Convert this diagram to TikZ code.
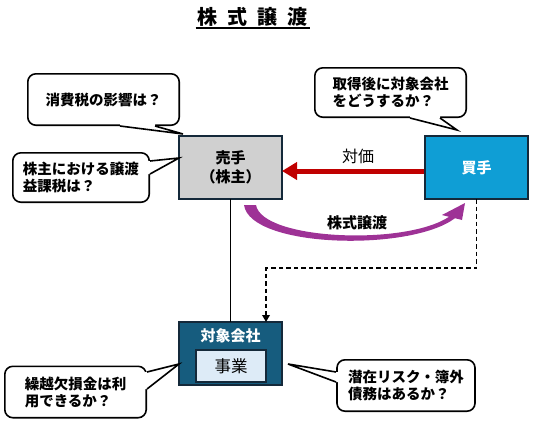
\documentclass[tikz,border=0pt]{standalone}
\usepackage{fontspec}
\setmainfont{Noto Sans CJK JP}
\usetikzlibrary{arrows.meta,calc}
\definecolor{sellerfill}{HTML}{D0D0D0}
\definecolor{boxline}{HTML}{14293A}
\definecolor{buyerfill}{HTML}{0F9ED5}
\definecolor{targetfill}{HTML}{165C7E}
\definecolor{innerfill}{HTML}{DDEBF7}
\definecolor{redarr}{HTML}{C00000}
\definecolor{purparr}{HTML}{9E3296}
\newcommand{\calltail}[4]{%
  \fill[white] ($(#1)+#4$) -- (#1) -- (#3) -- (#2) -- ($(#2)+#4$) -- cycle;
  \draw[tailline] (#1) -- (#3) -- (#2);}
\begin{document}
\begin{tikzpicture}[x=1pt,y=-1pt,
  party/.style={draw=boxline, line width=2.2pt, minimum width=103pt, minimum height=63pt,
    inner sep=0pt, outer sep=0pt, align=center, font=\bfseries\fontsize{15}{19}\selectfont},
  bubble/.style={draw=black, line width=1.6pt, rounded corners=8pt, fill=white,
    inner sep=0pt, outer sep=0pt, align=left, font=\bfseries\fontsize{14.5}{17}\selectfont},
  tailline/.style={draw=black, line width=1.6pt, line join=miter},
  txt/.style={inner sep=0pt, outer sep=0pt},
  link/.style={line width=1.8pt, draw=black}
]
\useasboundingbox (0,0) rectangle (533,440);

% title
\node[txt, font=\bfseries\fontsize{20}{22}\selectfont] (title) at (252.5,16.5)
  {株\hspace{10pt}式\hspace{10pt}譲\hspace{10pt}渡};
\draw[line width=1.3pt] ($(title.west)+(-2,11.5)$) -- ($(title.east)+(2,11.5)$);

% parties
\node[party, fill=sellerfill] (seller) at (230.5,167.5) {売手\\（株主）};
\node[party, fill=buyerfill, text=white] (buyer) at (476.5,167.5) {買手};
\node[party, fill=targetfill] (target) at (230.5,353.5) {};
\node[txt, text=white, font=\bfseries\fontsize{15}{18}\selectfont] (tname) at (230.5,336) {対象会社};
\node[draw=boxline, line width=2pt, fill=innerfill, minimum width=70pt, minimum height=32pt,
  inner sep=0pt, font=\fontsize{16.5}{18}\selectfont] (biz) at (231,366) {事業};

% connectors
\draw[link] (seller.south) -- (target.north);
\draw[link, dash pattern=on 4.5pt off 3pt, -{Triangle[length=7pt,width=7.5pt]}]
  (buyer.south) -- ++(0,69) -| ($(target.north)+(35.5,0)$);
\draw[line width=5pt, draw=redarr, -{Triangle[length=15pt,width=17pt]}]
  ($(buyer.west)+(-1,3.5)$) -- ($(seller.east)+(0,3.5)$);

% purple curved arrow
\fill[purparr] (244,205) .. controls (250,248) and (410,252) .. (455,218.2)
  -- (462,220) -- (465,203) -- (442,215) -- (449,216.8)
  .. controls (405,246) and (262,240) .. (256,205) -- cycle;

% labels
\node[txt, font=\fontsize{16}{18}\selectfont] (price) at (358,156.5) {対価};
\node[txt, font=\bfseries\fontsize{15}{18}\selectfont] (sharelbl) at (357,223) {株式譲渡};

% callouts
\node[bubble, minimum width=151.4pt, minimum height=51.4pt] (q1) at (103.5,99.5) {消費税の影響は？};
\coordinate (q1a) at (120,126); \coordinate (q1b) at (155,126);
\coordinate (q1t) at ($(seller.north west)+(4,-2)$);
\calltail{q1a}{q1b}{q1t}{(0,-2.5)}

\node[bubble, minimum width=151.4pt, minimum height=49.4pt] (q2) at (390.5,92.5) {取得後に対象会社\\をどうするか？};
\coordinate (q2a) at (410,118); \coordinate (q2b) at (440,118);
\coordinate (q2t) at ($(buyer.north west)+(32,-6)$);
\calltail{q2a}{q2b}{q2t}{(0,-2.5)}

\node[bubble, minimum width=136.4pt, minimum height=49.4pt] (q3) at (81,177.5) {株主における譲渡\\益課税は？};
\coordinate (q3a) at (150,161); \coordinate (q3b) at (150,174);
\coordinate (q3t) at ($(seller.west)+(0,-9.5)$);
\calltail{q3a}{q3b}{q3t}{(-2.5,0)}

\node[bubble, minimum width=141.4pt, minimum height=51.4pt] (q4) at (75.5,392) {繰越欠損金は利\\用できるか？};
\coordinate (q4a) at (147,372); \coordinate (q4b) at (147,389);
\coordinate (q4t) at ($(target.west)+(0,10.5)$);
\calltail{q4a}{q4b}{q4t}{(-2.5,0)}

\node[bubble, minimum width=138pt, minimum height=51.4pt] (q5) at (406,385.5) {潜在リスク・簿外\\債務はあるか？};
\coordinate (q5a) at (336,372); \coordinate (q5b) at (336,382);
\coordinate (q5t) at ($(target.east)+(6,10.5)$);
\calltail{q5a}{q5b}{q5t}{(2.5,0)}
\end{tikzpicture}
\end{document}
